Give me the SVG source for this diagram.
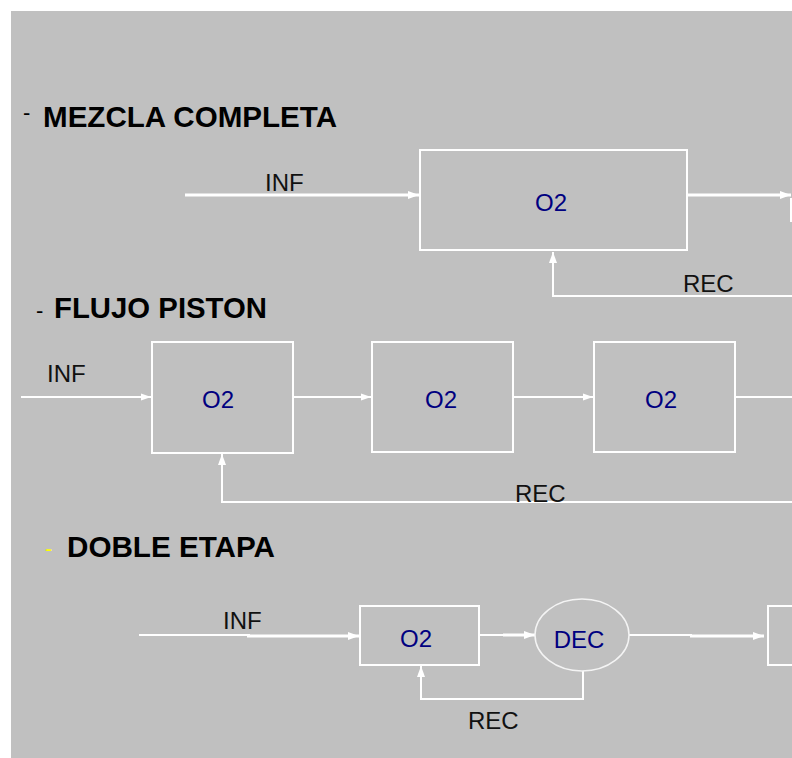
<svg xmlns="http://www.w3.org/2000/svg" width="792" height="758" viewBox="0 0 792 758">
<style>
.bg{fill:#c0c0c0}
.box{fill:none;stroke:#fff;stroke-width:2}
.ln{fill:none;stroke:#fff;stroke-width:2}
.lnb{fill:none;stroke:#fff;stroke-width:3}
.title{font-family:"Liberation Sans",Arial,sans-serif;font-weight:bold;font-size:30px;fill:#000}
.lbl{font-family:"Liberation Sans",Arial,sans-serif;font-size:24px;fill:#111}
.o2{font-family:"Liberation Sans",Arial,sans-serif;font-size:24px;fill:#000080}
.dash{font-family:"Liberation Sans",Arial,sans-serif;font-weight:normal;font-size:22px;fill:#000}
</style>
<defs>
<marker id="arr" markerUnits="userSpaceOnUse" markerWidth="12" markerHeight="10" refX="11" refY="5" orient="auto">
<path d="M0,1 L11,5 L0,9 z" fill="#fff"/>
</marker>
<marker id="arrs" markerUnits="userSpaceOnUse" markerWidth="11" markerHeight="9" refX="10" refY="4.5" orient="auto">
<path d="M0,1 L10,4.5 L0,8 z" fill="#fff"/>
</marker>
</defs>
<rect width="792" height="758" fill="#fff"/>
<rect class="bg" x="11" y="11" width="781" height="747"/>

<g id="titles">
<text class="title"><tspan class="dash" x="23" y="120">-</tspan><tspan x="43" y="127" textLength="294" lengthAdjust="spacingAndGlyphs">MEZCLA COMPLETA</tspan></text>
<text class="title"><tspan class="dash" x="36" y="318">-</tspan><tspan x="54" y="318" textLength="213" lengthAdjust="spacingAndGlyphs">FLUJO PISTON</tspan></text>
<text class="title"><tspan class="dash" x="45" y="556" style="fill:#ffff00">-</tspan><tspan x="67" y="557" textLength="208" lengthAdjust="spacingAndGlyphs">DOBLE ETAPA</tspan></text>
</g>

<g id="connectors">
<line class="lnb" x1="185" y1="195" x2="419" y2="195" marker-end="url(#arr)"/>
<line class="lnb" x1="687" y1="195" x2="791" y2="195" marker-end="url(#arr)"/>
<polyline class="ln" points="792,296 553,296 553,252" marker-end="url(#arr)"/>
<line class="ln" x1="21" y1="397" x2="151" y2="397" marker-end="url(#arrs)"/>
<line class="ln" x1="293" y1="397" x2="371" y2="397" marker-end="url(#arrs)"/>
<line class="ln" x1="513" y1="397" x2="593" y2="397" marker-end="url(#arrs)"/>
<line class="ln" x1="735" y1="397" x2="792" y2="397"/>
<polyline class="ln" points="792,502 222,502 222,454" marker-end="url(#arr)"/>
<line class="ln" x1="139" y1="635" x2="250" y2="635"/>
<line class="lnb" x1="247" y1="636" x2="359" y2="636" marker-end="url(#arr)"/>
<line class="ln" x1="479" y1="635" x2="505" y2="635"/>
<line class="lnb" x1="503" y1="635" x2="535" y2="635" marker-end="url(#arr)"/>
<line class="ln" x1="629" y1="635" x2="692" y2="635"/>
<line class="lnb" x1="690" y1="636" x2="764" y2="636" marker-end="url(#arr)"/>
<polyline class="ln" points="583,671 583,699 421,699 421,666" marker-end="url(#arr)"/>
</g>

<g id="labels">
<text class="lbl" x="265" y="191">INF</text>
<text class="lbl" x="683" y="292">REC</text>
<text class="lbl" x="47" y="382">INF</text>
<text class="lbl" x="515" y="502">REC</text>
<text class="lbl" x="223" y="629">INF</text>
<text class="lbl" x="468" y="729">REC</text>
</g>

<g id="reactor-mezcla">
<rect class="box" x="420" y="150" width="267" height="100"/>
<text class="o2" x="551" y="211" text-anchor="middle">O2</text>
</g>
<g id="next-mezcla">
<line class="ln" x1="791" y1="198" x2="791" y2="222"/>
</g>

<g id="reactor-piston-1">
<rect class="box" x="152" y="342" width="141" height="111"/>
<text class="o2" x="218" y="408" text-anchor="middle">O2</text>
</g>
<g id="reactor-piston-2">
<rect class="box" x="372" y="342" width="141" height="110"/>
<text class="o2" x="441" y="408" text-anchor="middle">O2</text>
</g>
<g id="reactor-piston-3">
<rect class="box" x="594" y="342" width="141" height="110"/>
<text class="o2" x="661" y="408" text-anchor="middle">O2</text>
</g>

<g id="reactor-doble-1">
<rect class="box" x="360" y="606" width="119" height="59"/>
<text class="o2" x="416" y="647" text-anchor="middle">O2</text>
</g>
<g id="decantador">
<ellipse cx="582" cy="635" rx="47" ry="36" fill="none" stroke="#f4f4f4" stroke-width="1.5"/>
<text x="579" y="648" text-anchor="middle" style="font-family:'Liberation Sans',Arial,sans-serif;font-size:24px;fill:#000080">DEC</text>
</g>
<g id="reactor-doble-2">
<rect class="box" x="768" y="606" width="40" height="59"/>
</g>
</svg>
